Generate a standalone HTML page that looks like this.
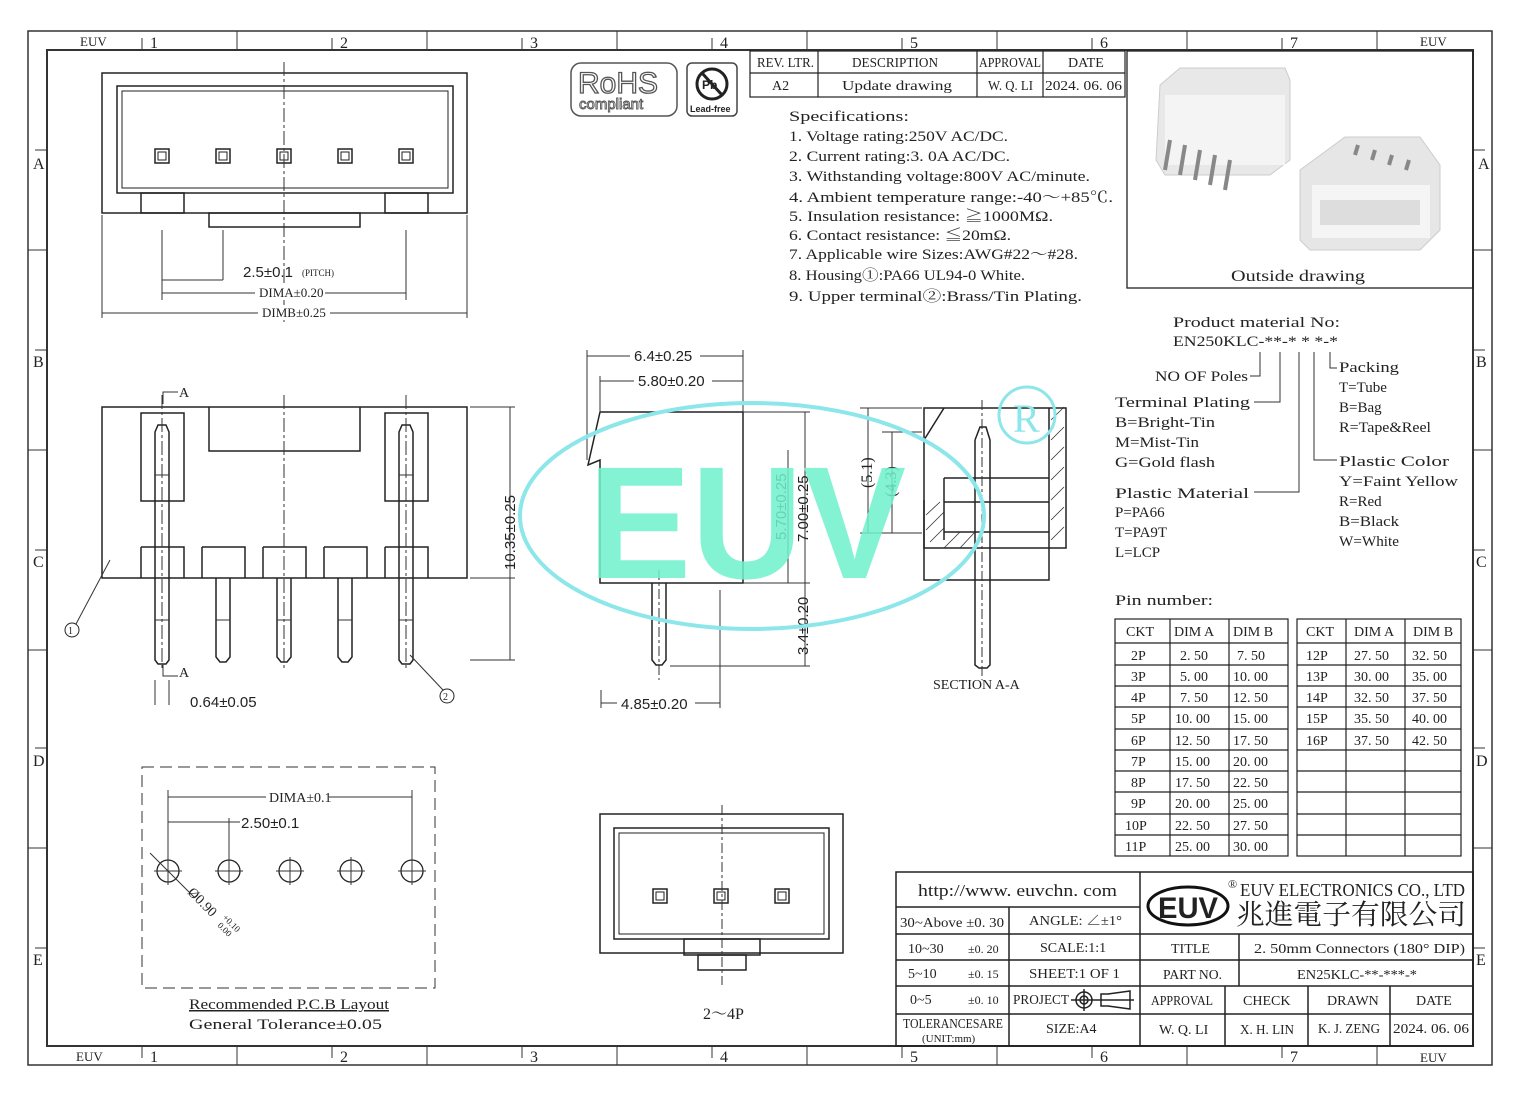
<!DOCTYPE html>
<html><head><meta charset="utf-8"><style>
html,body{margin:0;padding:0;background:#fff}
svg{display:block}
text{font-family:"Liberation Serif","Noto Serif CJK SC",serif;fill:#222}
.s{font-family:"Liberation Sans",sans-serif}
</style></head><body>
<svg width="1520" height="1096" viewBox="0 0 1520 1096" xmlns="http://www.w3.org/2000/svg">
<g fill="none" stroke="#333" stroke-width="1.5">
<rect x="28" y="31" width="1464" height="1034"/>
<rect x="47" y="50" width="1426" height="996" stroke-width="2"/>
</g>
<g stroke="#333" stroke-width="1">
<line x1="237" y1="31" x2="237" y2="50"/><line x1="427" y1="31" x2="427" y2="50"/><line x1="617" y1="31" x2="617" y2="50"/><line x1="807" y1="31" x2="807" y2="50"/><line x1="997" y1="31" x2="997" y2="50"/><line x1="1187" y1="31" x2="1187" y2="50"/><line x1="1377" y1="31" x2="1377" y2="50"/>
<line x1="237" y1="1046" x2="237" y2="1065"/><line x1="427" y1="1046" x2="427" y2="1065"/><line x1="617" y1="1046" x2="617" y2="1065"/><line x1="807" y1="1046" x2="807" y2="1065"/><line x1="997" y1="1046" x2="997" y2="1065"/><line x1="1187" y1="1046" x2="1187" y2="1065"/><line x1="1377" y1="1046" x2="1377" y2="1065"/>
<line x1="142" y1="38" x2="142" y2="50"/><line x1="332" y1="38" x2="332" y2="50"/><line x1="522" y1="38" x2="522" y2="50"/><line x1="712" y1="38" x2="712" y2="50"/><line x1="902" y1="38" x2="902" y2="50"/><line x1="1092" y1="38" x2="1092" y2="50"/><line x1="1282" y1="38" x2="1282" y2="50"/>
<line x1="142" y1="1046" x2="142" y2="1058"/><line x1="332" y1="1046" x2="332" y2="1058"/><line x1="522" y1="1046" x2="522" y2="1058"/><line x1="712" y1="1046" x2="712" y2="1058"/><line x1="902" y1="1046" x2="902" y2="1058"/><line x1="1092" y1="1046" x2="1092" y2="1058"/><line x1="1282" y1="1046" x2="1282" y2="1058"/>
<line x1="28" y1="250" x2="47" y2="250"/><line x1="28" y1="450" x2="47" y2="450"/><line x1="28" y1="650" x2="47" y2="650"/><line x1="28" y1="848" x2="47" y2="848"/>
<line x1="1473" y1="250" x2="1492" y2="250"/><line x1="1473" y1="450" x2="1492" y2="450"/><line x1="1473" y1="650" x2="1492" y2="650"/><line x1="1473" y1="848" x2="1492" y2="848"/>
<line x1="35" y1="150" x2="47" y2="150"/><line x1="35" y1="350" x2="47" y2="350"/><line x1="35" y1="550" x2="47" y2="550"/><line x1="35" y1="748" x2="47" y2="748"/><line x1="35" y1="948" x2="47" y2="948"/>
<line x1="1473" y1="150" x2="1485" y2="150"/><line x1="1473" y1="350" x2="1485" y2="350"/><line x1="1473" y1="550" x2="1485" y2="550"/><line x1="1473" y1="748" x2="1485" y2="748"/><line x1="1473" y1="948" x2="1485" y2="948"/>
</g>
<g font-size="16">
<text x="80" y="46" font-size="13">EUV</text><text x="150" y="48">1</text><text x="340" y="48">2</text><text x="530" y="48">3</text><text x="720" y="48">4</text><text x="910" y="48">5</text><text x="1100" y="48">6</text><text x="1290" y="48">7</text><text x="1420" y="46" font-size="13">EUV</text>
<text x="76" y="1061" font-size="13">EUV</text><text x="150" y="1062">1</text><text x="340" y="1062">2</text><text x="530" y="1062">3</text><text x="720" y="1062">4</text><text x="910" y="1062">5</text><text x="1100" y="1062">6</text><text x="1290" y="1062">7</text><text x="1420" y="1062" font-size="13">EUV</text>
<text x="33" y="169">A</text><text x="33" y="367">B</text><text x="33" y="567">C</text><text x="33" y="766">D</text><text x="33" y="965">E</text>
<text x="1478" y="169">A</text><text x="1476" y="367">B</text><text x="1476" y="567">C</text><text x="1476" y="766">D</text><text x="1476" y="965">E</text>
</g>

<!-- top view -->
<g fill="none" stroke="#222" stroke-width="1.5">
<rect x="102" y="73" width="365" height="140"/>
<rect x="117" y="86" width="336" height="107"/>
<rect x="122" y="91" width="326" height="97" stroke-width="1"/>
<rect x="141" y="193" width="43" height="20"/><rect x="385" y="193" width="43" height="20"/>
<rect x="209" y="213" width="151" height="14"/>
<rect x="155" y="149" width="14" height="14"/><rect x="216" y="149" width="14" height="14"/><rect x="277" y="149" width="14" height="14"/><rect x="338" y="149" width="14" height="14"/><rect x="399" y="149" width="14" height="14"/>
<rect x="158" y="152" width="8" height="8" stroke-width="1"/><rect x="219" y="152" width="8" height="8" stroke-width="1"/><rect x="280" y="152" width="8" height="8" stroke-width="1"/><rect x="341" y="152" width="8" height="8" stroke-width="1"/><rect x="402" y="152" width="8" height="8" stroke-width="1"/>
</g>
<g stroke="#333" stroke-width="1" fill="none">
<line x1="284" y1="62" x2="284" y2="322" stroke-dasharray="14 3 3 3"/>
<line x1="162" y1="230" x2="162" y2="300"/><line x1="223" y1="230" x2="223" y2="280"/><line x1="406" y1="230" x2="406" y2="300"/>
<line x1="102" y1="215" x2="102" y2="318"/><line x1="467" y1="215" x2="467" y2="318"/>
<line x1="162" y1="280" x2="223" y2="280"/><line x1="162" y1="293" x2="406" y2="293"/><line x1="102" y1="313" x2="467" y2="313"/>
</g>
<g font-size="14"><text x="243" y="277" class="s" font-size="15">2.5±0.1</text><text x="302" y="276" font-size="9">(PITCH)</text>
<rect x="255" y="285" width="70" height="15" fill="#fff"/><text x="259" y="297" font-size="13">DIMA±0.20</text>
<rect x="258" y="305" width="72" height="15" fill="#fff"/><text x="262" y="317" font-size="13">DIMB±0.25</text></g>

<!-- side view -->
<g fill="none" stroke="#222" stroke-width="1.5">
<path d="M102,407 H467 V578 H102 Z"/>
<path d="M209,407 V451 H360 V407"/>
<path d="M141,547 H184 V578 M202,547 H245 V578 M263,547 H306 V578 M324,547 H367 V578 M385,547 H428 V578 M141,547 V578 M202,547 V578 M263,547 V578 M324,547 V578 M385,547 V578"/>
<rect x="141" y="413" width="43" height="88"/><rect x="385" y="413" width="43" height="88"/>
<path d="M155,432 L158,425 H166 L169,432 V660 L166,664 H158 L155,660 Z"/>
<path d="M399,432 L402,425 H410 L413,432 V660 L410,664 H402 L399,660 Z"/>
<path d="M216,578 V657 L220,662 H226 L230,657 V578"/><path d="M277,578 V657 L281,662 H287 L291,657 V578"/><path d="M338,578 V657 L342,662 H348 L352,657 V578"/>
</g>
<g stroke="#333" stroke-width="1" fill="none">
<line x1="155" y1="475" x2="169" y2="475"/><line x1="399" y1="475" x2="413" y2="475"/>
<line x1="155" y1="620" x2="169" y2="620"/><line x1="399" y1="620" x2="413" y2="620"/>
<line x1="216" y1="620" x2="230" y2="620"/><line x1="277" y1="620" x2="291" y2="620"/><line x1="338" y1="620" x2="352" y2="620"/>
<line x1="284" y1="395" x2="284" y2="670" stroke-dasharray="14 3 3 3"/>
<line x1="162" y1="395" x2="162" y2="670" stroke-dasharray="14 3 3 3"/>
<line x1="406" y1="395" x2="406" y2="670" stroke-dasharray="14 3 3 3"/>
<path d="M178,392 H163 V404"/><path d="M178,676 H163 V664"/>
<line x1="470" y1="407" x2="515" y2="407"/><line x1="470" y1="578" x2="515" y2="578"/><line x1="510" y1="407" x2="510" y2="660"/><line x1="470" y1="660" x2="515" y2="660"/>
<line x1="110" y1="560" x2="76" y2="624"/><line x1="410" y1="655" x2="443" y2="690"/>
<line x1="155" y1="680" x2="155" y2="705"/><line x1="169" y1="680" x2="169" y2="705"/>
</g>
<g font-size="14"><text x="179" y="397">A</text><text x="179" y="677">A</text>
<text x="190" y="707" class="s" font-size="15">0.64±0.05</text>
<text transform="translate(515,570) rotate(-90)" class="s" font-size="15">10.35±0.25</text></g>
<circle cx="72" cy="630" r="7" fill="none" stroke="#222"/><text x="68" y="634" font-size="10">1</text>
<circle cx="447" cy="696" r="7" fill="none" stroke="#222"/><text x="443" y="700" font-size="10">2</text>

<!-- front profile -->
<g fill="none" stroke="#222" stroke-width="1.5">
<path d="M600,412 H743 V583 H600 V460 L588,465 L600,412"/>
<path d="M652,583 V660 L656,665 H662 L666,660 V583"/>
</g>
<g stroke="#333" stroke-width="1" fill="none">
<line x1="587" y1="350" x2="587" y2="460"/><line x1="743" y1="350" x2="743" y2="412"/><line x1="587" y1="356" x2="743" y2="356"/>
<line x1="600" y1="376" x2="600" y2="412"/><line x1="600" y1="381" x2="743" y2="381"/>
<line x1="743" y1="412" x2="810" y2="412"/><line x1="743" y1="583" x2="810" y2="583"/><line x1="670" y1="666" x2="810" y2="666"/>
<line x1="788" y1="450" x2="788" y2="583"/><line x1="805" y1="412" x2="805" y2="666"/>
<line x1="601" y1="690" x2="601" y2="708"/><line x1="720" y1="590" x2="720" y2="708"/><line x1="601" y1="703" x2="720" y2="703"/>
<line x1="659" y1="570" x2="659" y2="680" stroke-dasharray="10 3 3 3"/>
</g>
<g class="s" font-size="15"><rect x="630" y="347" width="70" height="17" fill="#fff"/><text x="634" y="361" class="s">6.4±0.25</text>
<rect x="634" y="372" width="78" height="17" fill="#fff"/><text x="638" y="386" class="s">5.80±0.20</text>
<rect x="617" y="695" width="78" height="17" fill="#fff"/><text x="621" y="709" class="s">4.85±0.20</text>
<text transform="translate(786,540) rotate(-90)" class="s">5.70±0.25</text>
<text transform="translate(808,542) rotate(-90)" class="s">7.00±0.25</text>
<text transform="translate(808,655) rotate(-90)" class="s">3.4±0.20</text></g>

<!-- section A-A -->
<g fill="none" stroke="#222" stroke-width="1.5">
<path d="M924,408 H1066 V548 H1049 V580 H924 Z"/>
<path d="M1049,408 V548"/>
<path d="M944,408 L924,440"/>
<path d="M975,440 L980,427 H986 L990,440 V548"/><path d="M975,440 V665 L979,668 H987 L990,665 V548"/>
<path d="M944,478 H1049 M944,502 H1049 M944,532 H1049 M944,478 V540"/>
<path d="M924,500 V548 H1049"/>
</g>
<g stroke="#333" stroke-width="0.8">
<path d="M1051,420 L1064,407 M1051,440 L1064,427 M1051,460 L1064,447 M1051,480 L1064,467 M1051,500 L1064,487 M1051,520 L1064,507 M1051,540 L1064,527"/>
<path d="M926,515 L940,502 M926,530 L944,512 M930,542 L944,528 M944,548 L960,532 M960,548 L975,532"/>
</g>
<g stroke="#333" stroke-width="1" fill="none">
<line x1="860" y1="408" x2="922" y2="408"/><line x1="860" y1="533" x2="922" y2="533"/><line x1="868" y1="408" x2="868" y2="533"/>
<line x1="882" y1="432" x2="922" y2="432"/><line x1="892" y1="432" x2="892" y2="533"/>
<line x1="982" y1="400" x2="982" y2="680" stroke-dasharray="10 3 3 3"/>
</g>
<text transform="translate(872,488) rotate(-90)" font-size="16">(5.1)</text>
<text transform="translate(896,497) rotate(-90)" font-size="16">(4.3)</text>
<text x="933" y="689" font-size="14">SECTION A-A</text>

<!-- PCB layout -->
<rect x="142" y="767" width="293" height="221" fill="none" stroke="#333" stroke-width="1" stroke-dasharray="12 6"/>
<g fill="none" stroke="#222" stroke-width="1.3">
<circle cx="168" cy="871" r="11"/><circle cx="229" cy="871" r="11"/><circle cx="290" cy="871" r="11"/><circle cx="351" cy="871" r="11"/><circle cx="412" cy="871" r="11"/>
</g>
<g stroke="#333" stroke-width="1">
<path d="M154,871 H182 M168,857 V885 M215,871 H243 M229,857 V885 M276,871 H304 M290,857 V885 M337,871 H365 M351,857 V885 M398,871 H426 M412,857 V885"/>
<line x1="168" y1="790" x2="168" y2="857"/><line x1="412" y1="790" x2="412" y2="857"/><line x1="229" y1="818" x2="229" y2="857"/>
<line x1="168" y1="797" x2="412" y2="797"/><line x1="168" y1="822" x2="229" y2="822"/><line x1="229" y1="822" x2="240" y2="822"/>
<line x1="150" y1="853" x2="195" y2="898"/>
</g>
<rect x="266" y="788" width="63" height="17" fill="#fff"/><text x="269" y="802" font-size="14">DIMA±0.1</text>
<text x="241" y="828" font-size="15" class="s">2.50±0.1</text>
<text transform="translate(187,893) rotate(45)" font-size="14">Ø0.90</text><text transform="translate(222,918) rotate(45)" font-size="9">+0.10</text><text transform="translate(217,926) rotate(45)" font-size="9">0.00</text>
<text x="189" y="1009" font-size="15" text-decoration="underline" textLength="200" lengthAdjust="spacingAndGlyphs">Recommended P.C.B Layout</text>
<text x="189" y="1029" font-size="15" textLength="193" lengthAdjust="spacingAndGlyphs">General Tolerance±0.05</text>

<!-- 2~4P -->
<g fill="none" stroke="#222" stroke-width="1.5">
<rect x="600" y="814" width="243" height="139"/>
<rect x="614" y="828" width="215" height="111"/>
<rect x="619" y="833" width="205" height="101" stroke-width="1"/>
<rect x="684" y="939" width="76" height="16"/><rect x="698" y="955" width="48" height="15"/>
<rect x="653" y="889" width="14" height="14"/><rect x="714" y="889" width="14" height="14"/><rect x="775" y="889" width="14" height="14"/>
<rect x="656" y="892" width="8" height="8" stroke-width="1"/><rect x="717" y="892" width="8" height="8" stroke-width="1"/><rect x="778" y="892" width="8" height="8" stroke-width="1"/>
</g>
<line x1="722" y1="805" x2="722" y2="985" stroke="#333" stroke-dasharray="10 3 3 3"/>
<text x="703" y="1019" font-size="16">2～4P</text>

<!-- watermark -->
<ellipse cx="752" cy="516" rx="232" ry="113" fill="none" stroke="#8de6ea" stroke-width="4"/>
<text x="588" y="578" textLength="318" lengthAdjust="spacingAndGlyphs" font-weight="bold" font-size="160" style="fill:#6ff2cc;font-family:'Liberation Sans',sans-serif" opacity="0.85">EUV</text>
<circle cx="1027" cy="415" r="28" fill="none" stroke="#8de6ea" stroke-width="3"/>
<text x="1013" y="432" font-size="40" style="fill:#8de6ea">R</text>

<!-- RoHS -->
<rect x="571" y="63" width="106" height="53" rx="10" fill="none" stroke="#555" stroke-width="1.5"/>
<text x="578" y="93" font-size="30" style="fill:#fff;stroke:#555;stroke-width:1.3;font-family:'Liberation Sans',sans-serif">RoHS</text>
<text x="579" y="109" font-size="15" style="fill:#fff;stroke:#555;stroke-width:0.9;font-family:'Liberation Sans',sans-serif">compliant</text>
<rect x="687" y="63" width="50" height="53" rx="5" fill="none" stroke="#444" stroke-width="1.5"/>
<circle cx="712" cy="84" r="15" fill="none" stroke="#222" stroke-width="3"/><line x1="702" y1="73" x2="722" y2="95" stroke="#222" stroke-width="3"/>
<text x="702" y="89" font-size="12" class="s" font-weight="bold">Pb</text>
<text x="690" y="112" font-size="9" class="s" font-weight="bold">Lead-free</text>

<!-- rev table -->
<g fill="none" stroke="#222" stroke-width="1.2">
<rect x="750" y="51" width="375" height="46"/><line x1="750" y1="73" x2="1125" y2="73"/>
<line x1="818" y1="51" x2="818" y2="97"/><line x1="977" y1="51" x2="977" y2="97"/><line x1="1043" y1="51" x2="1043" y2="97"/>
</g>
<g font-size="14" lengthAdjust="spacingAndGlyphs"><text x="757" y="67" textLength="57" lengthAdjust="spacingAndGlyphs">REV. LTR.</text><text x="852" y="67" textLength="86" lengthAdjust="spacingAndGlyphs">DESCRIPTION</text><text x="979" y="67" textLength="62" lengthAdjust="spacingAndGlyphs">APPROVAL</text><text x="1068" y="67">DATE</text>
<text x="772" y="90">A2</text><text x="842" y="90" textLength="110" lengthAdjust="spacingAndGlyphs">Update drawing</text><text x="988" y="90" textLength="45" lengthAdjust="spacingAndGlyphs">W. Q. LI</text><text x="1045" y="90" textLength="77" lengthAdjust="spacingAndGlyphs">2024. 06. 06</text></g>

<g font-size="15">
<text x="789" y="121" textLength="120" lengthAdjust="spacingAndGlyphs">Specifications:</text>
<text x="789" y="141" textLength="219" lengthAdjust="spacingAndGlyphs">1. Voltage rating:250V AC/DC.</text>
<text x="789" y="161" textLength="221" lengthAdjust="spacingAndGlyphs">2. Current rating:3. 0A AC/DC.</text>
<text x="789" y="181" textLength="301" lengthAdjust="spacingAndGlyphs">3. Withstanding voltage:800V AC/minute.</text>
<text x="789" y="202" textLength="324" lengthAdjust="spacingAndGlyphs">4. Ambient temperature range:-40～+85℃.</text>
<text x="789" y="221" textLength="264" lengthAdjust="spacingAndGlyphs">5. Insulation resistance: ≧1000MΩ.</text>
<text x="789" y="240" textLength="222" lengthAdjust="spacingAndGlyphs">6. Contact resistance: ≦20mΩ.</text>
<text x="789" y="259" textLength="289" lengthAdjust="spacingAndGlyphs">7. Applicable wire Sizes:AWG#22～#28.</text>
<text x="789" y="280" textLength="236" lengthAdjust="spacingAndGlyphs">8. Housing①:PA66 UL94-0 White.</text>
<text x="789" y="301" textLength="293" lengthAdjust="spacingAndGlyphs">9. Upper terminal②:Brass/Tin Plating.</text>
</g>

<!-- outside drawing -->
<rect x="1127" y="51" width="346" height="237" fill="none" stroke="#222" stroke-width="1.3"/>
<g>
<path d="M1160,85 L1180,68 H1285 L1290,80 V160 L1270,175 H1165 L1156,160 Z" fill="#e8e8e8" stroke="#ccc"/>
<path d="M1165,95 H1285 V165 H1165 Z" fill="#f4f4f4"/>
<path d="M1300,170 L1345,137 H1420 L1440,165 V230 L1420,250 H1310 L1300,240 Z" fill="#e6e6e6" stroke="#ccc"/>
<path d="M1312,185 H1430 V238 H1312 Z" fill="#f5f5f5"/>
<path d="M1320,200 H1420 V225 H1320 Z" fill="#ddd"/>
<g stroke="#888" stroke-width="4"><line x1="1170" y1="140" x2="1165" y2="170"/><line x1="1185" y1="145" x2="1180" y2="175"/><line x1="1200" y1="150" x2="1195" y2="180"/><line x1="1215" y1="155" x2="1210" y2="185"/><line x1="1230" y1="160" x2="1225" y2="190"/>
<line x1="1355" y1="155" x2="1358" y2="145"/><line x1="1372" y1="160" x2="1375" y2="150"/><line x1="1389" y1="165" x2="1392" y2="155"/><line x1="1406" y1="170" x2="1409" y2="160"/></g>
</g>
<text x="1231" y="281" font-size="16" textLength="134" lengthAdjust="spacingAndGlyphs">Outside drawing</text>

<!-- product number -->
<g font-size="15">
<text x="1173" y="327" textLength="167" lengthAdjust="spacingAndGlyphs">Product material No:</text>
<text x="1173" y="346" textLength="165" lengthAdjust="spacingAndGlyphs">EN250KLC-**-* * *-*</text>
<text x="1155" y="381" textLength="93" lengthAdjust="spacingAndGlyphs">NO OF Poles</text>
<text x="1115" y="407" textLength="135" lengthAdjust="spacingAndGlyphs">Terminal Plating</text>
<text x="1115" y="427" textLength="100" lengthAdjust="spacingAndGlyphs">B=Bright-Tin</text><text x="1115" y="447" textLength="84" lengthAdjust="spacingAndGlyphs">M=Mist-Tin</text><text x="1115" y="467" textLength="100" lengthAdjust="spacingAndGlyphs">G=Gold flash</text>
<text x="1115" y="498" textLength="134" lengthAdjust="spacingAndGlyphs">Plastic Material</text>
<text x="1115" y="517">P=PA66</text><text x="1115" y="537">T=PA9T</text><text x="1115" y="557">L=LCP</text>
<text x="1339" y="372" textLength="60" lengthAdjust="spacingAndGlyphs">Packing</text><text x="1339" y="392">T=Tube</text><text x="1339" y="412">B=Bag</text><text x="1339" y="432" textLength="92" lengthAdjust="spacingAndGlyphs">R=Tape&amp;Reel</text>
<text x="1339" y="466" textLength="110" lengthAdjust="spacingAndGlyphs">Plastic Color</text><text x="1339" y="486" textLength="119" lengthAdjust="spacingAndGlyphs">Y=Faint Yellow</text><text x="1339" y="506">R=Red</text><text x="1339" y="526" textLength="60" lengthAdjust="spacingAndGlyphs">B=Black</text><text x="1339" y="546" textLength="60" lengthAdjust="spacingAndGlyphs">W=White</text>
<text x="1115" y="605" textLength="98" lengthAdjust="spacingAndGlyphs">Pin number:</text>
</g>
<g stroke="#333" stroke-width="1" fill="none">
<path d="M1260,352 V376 H1250"/><path d="M1280,352 V402 H1254"/><path d="M1299,352 V492 H1254"/><path d="M1314,352 V460 H1337"/><path d="M1330,352 V368 H1337"/>
</g>

<!-- pin table -->
<g fill="none" stroke="#222" stroke-width="1.2">
<rect x="1115" y="619" width="173" height="237"/><rect x="1297" y="619" width="164" height="237"/>
<line x1="1170" y1="619" x2="1170" y2="856"/><line x1="1229" y1="619" x2="1229" y2="856"/>
<line x1="1346" y1="619" x2="1346" y2="856"/><line x1="1405" y1="619" x2="1405" y2="856"/>
<path d="M1115,643 H1288 M1115,665 H1288 M1115,686 H1288 M1115,707 H1288 M1115,729 H1288 M1115,750 H1288 M1115,771 H1288 M1115,792 H1288 M1115,814 H1288 M1115,835 H1288"/>
<path d="M1297,643 H1461 M1297,665 H1461 M1297,686 H1461 M1297,707 H1461 M1297,729 H1461 M1297,750 H1461 M1297,771 H1461 M1297,792 H1461 M1297,814 H1461 M1297,835 H1461"/>
</g>
<g font-size="14">
<text x="1126" y="636">CKT</text><text x="1174" y="636">DIM A</text><text x="1233" y="636">DIM B</text>
<text x="1306" y="636">CKT</text><text x="1354" y="636">DIM A</text><text x="1413" y="636">DIM B</text>
<text x="1131" y="660">2P</text><text x="1180" y="660">2. 50</text><text x="1237" y="660">7. 50</text>
<text x="1131" y="681">3P</text><text x="1180" y="681">5. 00</text><text x="1233" y="681">10. 00</text>
<text x="1131" y="702">4P</text><text x="1180" y="702">7. 50</text><text x="1233" y="702">12. 50</text>
<text x="1131" y="723">5P</text><text x="1175" y="723">10. 00</text><text x="1233" y="723">15. 00</text>
<text x="1131" y="745">6P</text><text x="1175" y="745">12. 50</text><text x="1233" y="745">17. 50</text>
<text x="1131" y="766">7P</text><text x="1175" y="766">15. 00</text><text x="1233" y="766">20. 00</text>
<text x="1131" y="787">8P</text><text x="1175" y="787">17. 50</text><text x="1233" y="787">22. 50</text>
<text x="1131" y="808">9P</text><text x="1175" y="808">20. 00</text><text x="1233" y="808">25. 00</text>
<text x="1125" y="830">10P</text><text x="1175" y="830">22. 50</text><text x="1233" y="830">27. 50</text>
<text x="1125" y="851">11P</text><text x="1175" y="851">25. 00</text><text x="1233" y="851">30. 00</text>
<text x="1306" y="660">12P</text><text x="1354" y="660">27. 50</text><text x="1412" y="660">32. 50</text>
<text x="1306" y="681">13P</text><text x="1354" y="681">30. 00</text><text x="1412" y="681">35. 00</text>
<text x="1306" y="702">14P</text><text x="1354" y="702">32. 50</text><text x="1412" y="702">37. 50</text>
<text x="1306" y="723">15P</text><text x="1354" y="723">35. 50</text><text x="1412" y="723">40. 00</text>
<text x="1306" y="745">16P</text><text x="1354" y="745">37. 50</text><text x="1412" y="745">42. 50</text>
</g>

<!-- title block -->
<g fill="none" stroke="#222" stroke-width="1.5">
<rect x="896" y="872" width="577" height="174"/>
<line x1="1140" y1="872" x2="1140" y2="934"/>
<path d="M896,907 H1140 M896,934 H1473 M896,960 H1473 M896,986 H1473 M896,1014 H1473"/>
<line x1="1009" y1="907" x2="1009" y2="1046"/><line x1="1140" y1="934" x2="1140" y2="1046"/>
<line x1="1239" y1="934" x2="1239" y2="986"/>
<line x1="1225" y1="986" x2="1225" y2="1046"/><line x1="1308" y1="986" x2="1308" y2="1046"/><line x1="1390" y1="986" x2="1390" y2="1046"/>
</g>
<g font-size="14">
<text x="918" y="896" font-size="17" textLength="199" lengthAdjust="spacingAndGlyphs">http://www. euvchn. com</text>
<text x="900" y="927" textLength="104" lengthAdjust="spacingAndGlyphs">30~Above ±0. 30</text><text x="1029" y="925" textLength="93" lengthAdjust="spacingAndGlyphs">ANGLE: ∠±1°</text>
<text x="908" y="953">10~30</text><text x="968" y="953" font-size="12">±0. 20</text><text x="1040" y="952">SCALE:1:1</text>
<text x="908" y="978">5~10</text><text x="968" y="978" font-size="12">±0. 15</text><text x="1029" y="978" textLength="91" lengthAdjust="spacingAndGlyphs">SHEET:1 OF 1</text>
<text x="910" y="1004">0~5</text><text x="968" y="1004" font-size="12">±0. 10</text><text x="1013" y="1004" textLength="56" lengthAdjust="spacingAndGlyphs">PROJECT</text>
<text x="903" y="1028" textLength="100" lengthAdjust="spacingAndGlyphs">TOLERANCESARE</text><text x="922" y="1042" font-size="11">(UNIT:mm)</text>
<text x="1046" y="1033">SIZE:A4</text>
<text x="1171" y="953">TITLE</text><text x="1254" y="953" textLength="211" lengthAdjust="spacingAndGlyphs">2. 50mm Connectors (180° DIP)</text>
<text x="1163" y="979" textLength="59" lengthAdjust="spacingAndGlyphs">PART NO.</text><text x="1297" y="979" textLength="120" lengthAdjust="spacingAndGlyphs">EN25KLC-**-***-*</text>
<text x="1151" y="1005" textLength="62" lengthAdjust="spacingAndGlyphs">APPROVAL</text><text x="1243" y="1005">CHECK</text><text x="1327" y="1005">DRAWN</text><text x="1416" y="1005">DATE</text>
<text x="1159" y="1034">W. Q. LI</text><text x="1240" y="1034" textLength="54" lengthAdjust="spacingAndGlyphs">X. H. LIN</text><text x="1318" y="1033" textLength="62" lengthAdjust="spacingAndGlyphs">K. J. ZENG</text><text x="1393" y="1033" textLength="76" lengthAdjust="spacingAndGlyphs">2024. 06. 06</text>
</g>
<g fill="none" stroke="#222" stroke-width="1.5">
<circle cx="1084" cy="1000" r="8"/><circle cx="1084" cy="1000" r="4"/><path d="M1071,1000 H1097 M1084,989 V1011"/>
<path d="M1101,994 H1108 L1130,991 V1009 L1108,1006 H1101 Z M1097,1000 H1134"/>
</g>
<ellipse cx="1188" cy="906" rx="40" ry="19" fill="none" stroke="#111" stroke-width="3"/>
<text x="1158" y="918" font-size="30" class="s" font-weight="bold" textLength="60" lengthAdjust="spacingAndGlyphs">EUV</text>
<text x="1228" y="888" font-size="12">®</text>
<text x="1240" y="896" font-size="18" textLength="225" lengthAdjust="spacingAndGlyphs">EUV ELECTRONICS CO., LTD</text>
<text x="1236" y="924" font-size="28" textLength="230" lengthAdjust="spacingAndGlyphs" style="font-family:'Noto Serif CJK SC','Noto Sans CJK SC',serif">兆進電子有限公司</text>
</svg>
</body></html>
